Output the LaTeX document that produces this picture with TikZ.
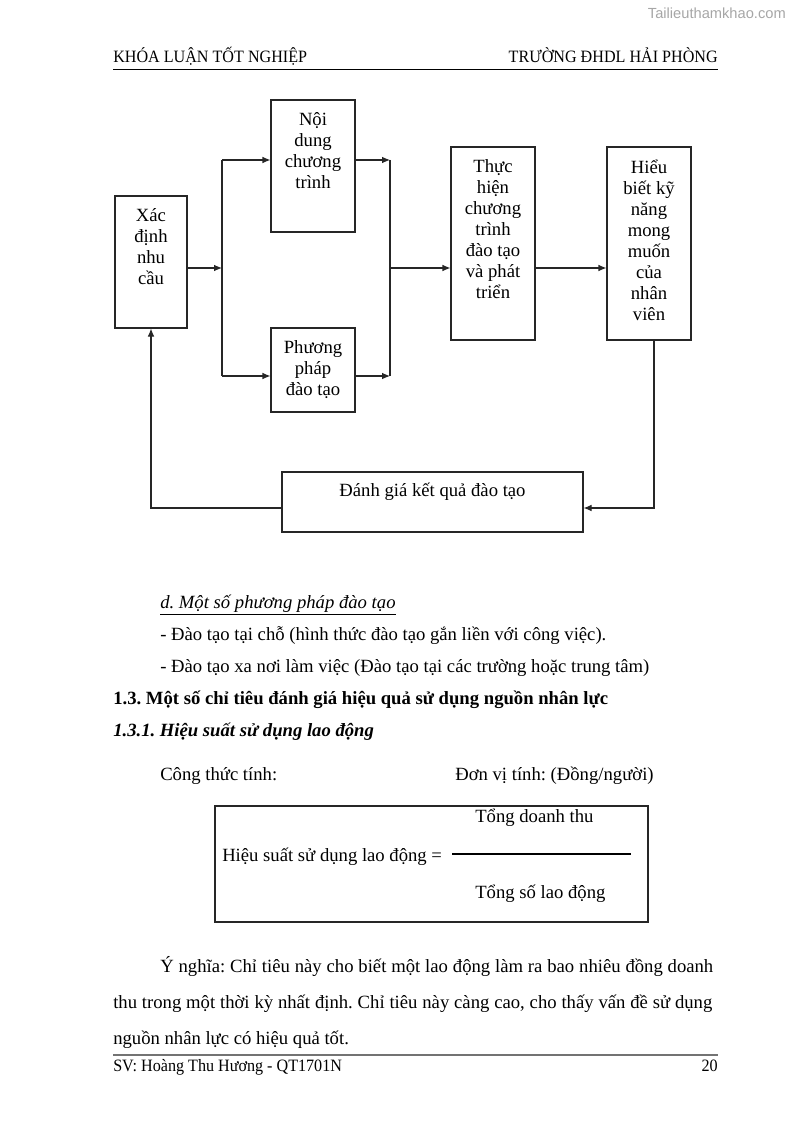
\documentclass[tikz,border=0pt]{standalone}
\usepackage{fontspec}
\setmainfont{Liberation Serif}
\newfontfamily\headfont[FakeStretch=0.93]{Liberation Serif}
\newfontfamily\markfont{Liberation Sans}
\usetikzlibrary{positioning}
\usetikzlibrary{fit}
\usetikzlibrary{arrows.meta}
\colorlet{line colour}{black!85}
\colorlet{rule colour}{black!55}
\colorlet{mark colour}{black!35}
\newcommand{\boxfont}{\fontsize{14pt}{15.75pt}\selectfont}
\newcommand{\bodyfont}{\frenchspacing\fontsize{14pt}{24pt}\selectfont}
\newcommand{\pagefont}{\headfont\fontsize{13pt}{15pt}\selectfont}
\tikzset{
    % Small filled tips, as in the printed chart
    >={Latex[length=6pt,width=5pt]},
%
    % Boxes are fitted to their printed corners
    stage/.style={draw=line colour, fit={#1}, inner sep=0, line width=0.8pt},
    stage text/.style={inner sep=0, align=center, font=\boxfont,
        execute at begin node=\rule{0pt}{14pt}},
    link/.style={color=line colour, line width=0.8pt, ->},
%
    % Running text is set line by line on its baseline
    body/.style={anchor=base west, inner sep=0, font=\bodyfont},
    page text/.style={inner sep=0, font=\pagefont},
}

\begin{document}
\begin{tikzpicture}[x=0.75pt, y=-0.75pt]
\useasboundingbox (0,0) rectangle (794,1123);

% head and foot of the page
\node (watermark) [anchor=base east, inner sep=0, text=mark colour,
    font=\markfont\fontsize{11pt}{12pt}\selectfont] at (786,19) {Tailieuthamkhao.com};
\node (head left) [page text, anchor=base west] at (113,63) {KHÓA LUẬN TỐT NGHIỆP};
\node (head right) [page text, anchor=base east] at (718,63) {TRƯỜNG ĐHDL HẢI PHÒNG};
\draw [line width=0.6pt] (113,69) -- (718,69);
\draw [rule colour, line width=1.2pt] (113,1055) -- (718,1055);
\node (foot left) [page text, anchor=base west] at (113,1071) {SV: Hoàng Thu Hương - QT1701N};
\node (foot right) [page text, anchor=base east] at (718,1071) {20};

% the training chart
\node (need) [stage={(115,196) (187,328)}] {};
\node (need text) [stage text, below=9.8pt of need.north] {Xác\\định\\nhu\\cầu};
\node (content) [stage={(271,100) (355,232)}] {};
\node (content text) [stage text, below=9.4pt of content.north] {Nội\\dung\\chương\\trình};
\node (method) [stage={(271,328) (355,412)}] {};
\node (method text) [stage text, below=9.4pt of method.north] {Phương\\pháp\\đào tạo};
\node (implement) [stage={(451,147) (535,340)}] {};
\node (implement text) [stage text, below=9.8pt of implement.north]
    {Thực\\hiện\\chương\\trình\\đào tạo\\và phát\\triển};
\node (skill) [stage={(607,147) (691,340)}] {};
\node (skill text) [stage text, below=9.8pt of skill.north]
    {Hiểu\\biết kỹ\\năng\\mong\\muốn\\của\\nhân\\viên};
\node (evaluate) [stage={(282,472) (583,532)}] {};
\node (evaluate text) [stage text, below=4.4pt of evaluate.north] {Đánh giá kết quả đào tạo};

\coordinate (fork) at (222,268);
\coordinate (fork top) at (222,160);
\coordinate (fork bottom) at (222,376);
\coordinate (join) at (390,268);
\coordinate (join top) at (390,160);
\coordinate (join bottom) at (390,376);
\coordinate (loop right) at (654,508);
\coordinate (loop left) at (151,508);

\draw [link] (need.east |- fork) -- (fork);
\draw [link, -] (fork top) -- (fork bottom);
\draw [link] (fork top) -- (content.west |- fork top);
\draw [link] (fork bottom) -- (method.west |- fork bottom);
\draw [link] (content.east |- join top) -- (join top);
\draw [link] (method.east |- join bottom) -- (join bottom);
\draw [link, -] (join top) -- (join bottom);
\draw [link] (join) -- (implement.west |- join);
\draw [link] (implement.east |- join) -- (skill.west |- join);
\draw [link] (skill.south -| loop right) -- (loop right) -- (evaluate.east |- loop right);
\draw [link] (evaluate.west |- loop left) -- (loop left) -- (need.south);

% text below the chart
\node (methods head) [body] at (160,608) {\underline{\itshape d. Một số phương pháp đào tạo}};
\node (on site) [body] at (160,640) {- Đào tạo tại chỗ (hình thức đào tạo gắn liền với công việc).};
\node (off site) [body] at (160,672) {- Đào tạo xa nơi làm việc (Đào tạo tại các trường hoặc trung tâm)};
\node (section) [body, font=\bodyfont\bfseries] at (113,704)
    {1.3. Một số chỉ tiêu đánh giá hiệu quả sử dụng nguồn nhân lực};
\node (subsection) [body, font=\bodyfont\bfseries\itshape] at (113,736)
    {1.3.1. Hiệu suất sử dụng lao động};
\node (formula label) [body] at (160,780) {Công thức tính:};
\node (unit label) [body] at (455,780) {Đơn vị tính: (Đồng/người)};

\node (formula) [stage={(215,806) (648,922)}] {};
\node (ratio name) [body] at (222,861) {Hiệu suất sử dụng lao động =};
\node (numerator) [body] at (475,822) {Tổng doanh thu};
\node (denominator) [body] at (475,898) {Tổng số lao động};
\draw [line width=0.8pt] (452,854) -- (631,854);

\node (meaning 1) [body] at (160,972)
    {\makebox[414.75pt][s]{Ý nghĩa: Chỉ tiêu này cho biết một lao động làm ra bao nhiêu đồng doanh}};
\node (meaning 2) [body] at (113,1008)
    {\makebox[449.25pt][s]{thu trong một thời kỳ nhất định. Chỉ tiêu này càng cao, cho thấy vấn đề sử dụng}};
\node (meaning 3) [body] at (113,1044) {nguồn nhân lực có hiệu quả tốt.};

\end{tikzpicture}
\end{document}
